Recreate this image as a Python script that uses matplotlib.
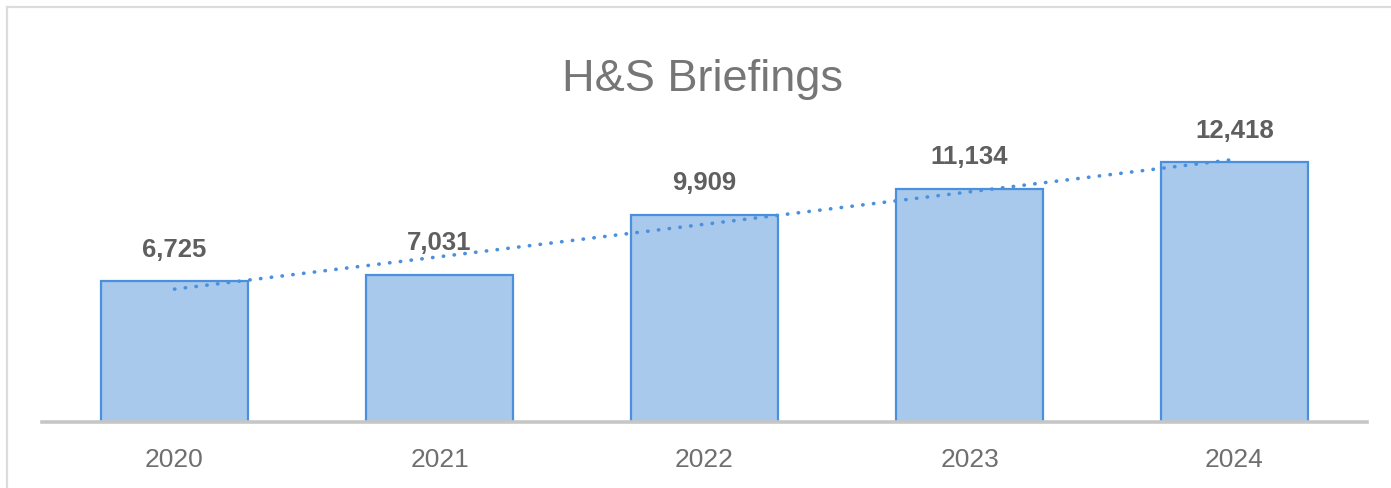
import numpy as np
import matplotlib.pyplot as plt
from matplotlib.lines import Line2D

years = ["2020", "2021", "2022", "2023", "2024"]
briefings = [6725, 7031, 9909, 11134, 12418]

BAR_FILL = "#a8c9ec"
BAR_EDGE = "#4a90dc"
TREND = "#4a90dc"
LABEL_GRAY = "#5f5f5f"
TICK_GRAY = "#6f6f6f"
TITLE_GRAY = "#767676"

plt.rcParams["font.family"] = ["Liberation Sans", "DejaVu Sans"]

fig = plt.figure(figsize=(13.91, 4.88), dpi=100)
ax = fig.add_axes([42 / 1391, 66 / 488, 1325 / 1391, 312 / 488])

x = np.arange(len(years))
bars = ax.bar(x, briefings, width=0.555, color=BAR_FILL, edgecolor=BAR_EDGE,
              linewidth=1.6, zorder=2)

# linear trendline, like the spreadsheet one
slope, intercept = np.polyfit(x, briefings, 1)
ax.plot(x, slope * x + intercept, linestyle=(0, (0.1, 2.9)), color=TREND,
        linewidth=2.6, dash_capstyle="round", zorder=3)

for xi, v in zip(x, briefings):
    ax.annotate(f"{v:,}", (xi, v), xytext=(0, 14), textcoords="offset points",
                ha="center", va="bottom", fontsize=18.5, fontweight="bold",
                color=LABEL_GRAY)

ax.set_xlim(-0.5, 4.5)
ax.set_ylim(0, 14900)
ax.set_xticks(x)
ax.set_xticklabels(years, fontsize=19, color=TICK_GRAY)
ax.tick_params(axis="x", length=0, pad=19)
ax.set_yticks([])
for side in ["top", "right", "left"]:
    ax.spines[side].set_visible(False)
ax.spines["bottom"].set_color("#c6c6c6")
ax.spines["bottom"].set_linewidth(2.6)
ax.spines["bottom"].set_zorder(4)

fig.text(703 / 1391, 1 - 80 / 488, "H&S Briefings", ha="center", va="center",
         fontsize=32.5, color=TITLE_GRAY)

# chart area border (left and top edges visible in the crop)
fig.add_artist(Line2D([7 / 1391, 7 / 1391], [0, 1 - 7 / 488], color="#dcdcdc",
                      linewidth=1.6, transform=fig.transFigure))
fig.add_artist(Line2D([7 / 1391, 1], [1 - 7 / 488, 1 - 7 / 488], color="#dcdcdc",
                      linewidth=1.6, transform=fig.transFigure))

fig.savefig("out.png", dpi=100)
